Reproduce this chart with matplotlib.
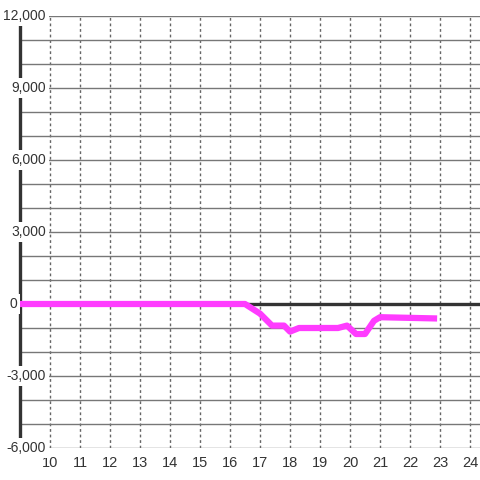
import matplotlib
matplotlib.use('Agg')
import matplotlib.pyplot as plt
from matplotlib.ticker import MultipleLocator

plt.rcParams['font.family'] = ['Liberation Sans', 'DejaVu Sans']

# series
xs = [9, 16.5, 17.0, 17.4, 17.8, 18.0, 18.3, 19.6, 19.9, 20.2, 20.5, 20.8, 21.0, 22.8]
ys = [0, 0, -400, -900, -900, -1150, -1000, -1000, -900, -1250, -1250, -700, -550, -600]

x_ticks = list(range(10, 25))
y_ticks = [-6000, -3000, 0, 3000, 6000, 9000, 12000]

fig = plt.figure(figsize=(4.8, 4.8), dpi=100)
ax = fig.add_axes([20/480, 32/480, 460/480, 432/480])
ax.set_xlim(9, 9 + 460/30)
ax.set_ylim(-6000, 12000)

# grid
ax.yaxis.set_major_locator(MultipleLocator(1000))
ax.set_xticks(x_ticks)
ax.grid(axis='y', color='#777777', lw=1, ls='-')
ax.grid(axis='x', color='#666666', lw=1, ls=(0, (2, 2)))
ax.set_axisbelow(True)
ax.axhline(0, color='#333333', lw=2.4, zorder=2)

for s in ['top', 'right', 'bottom']:
    ax.spines[s].set_visible(False)
ax.spines['left'].set_color('#333333')
ax.spines['left'].set_linewidth(2.4)

ax.tick_params(axis='both', length=0)
ax.set_yticklabels([])
ax.tick_params(axis='x', labelsize=10.5, labelcolor='#333333', pad=6)

for v in y_ticks:
    # the zero label sits left of the axis, the rest overlap it
    xr = 9 - 3/30 if v == 0 else 9 + 26/30
    ax.text(xr, v, f'{v:,}', ha='right', va='center', fontsize=10,
            color='#333333', zorder=10, clip_on=False,
            bbox=dict(facecolor='white', edgecolor='none', pad=2))

ax.plot(xs, ys, color='#ff3cff', lw=4.5, solid_joinstyle='round', zorder=5)

fig.savefig('out.png', dpi=100)
